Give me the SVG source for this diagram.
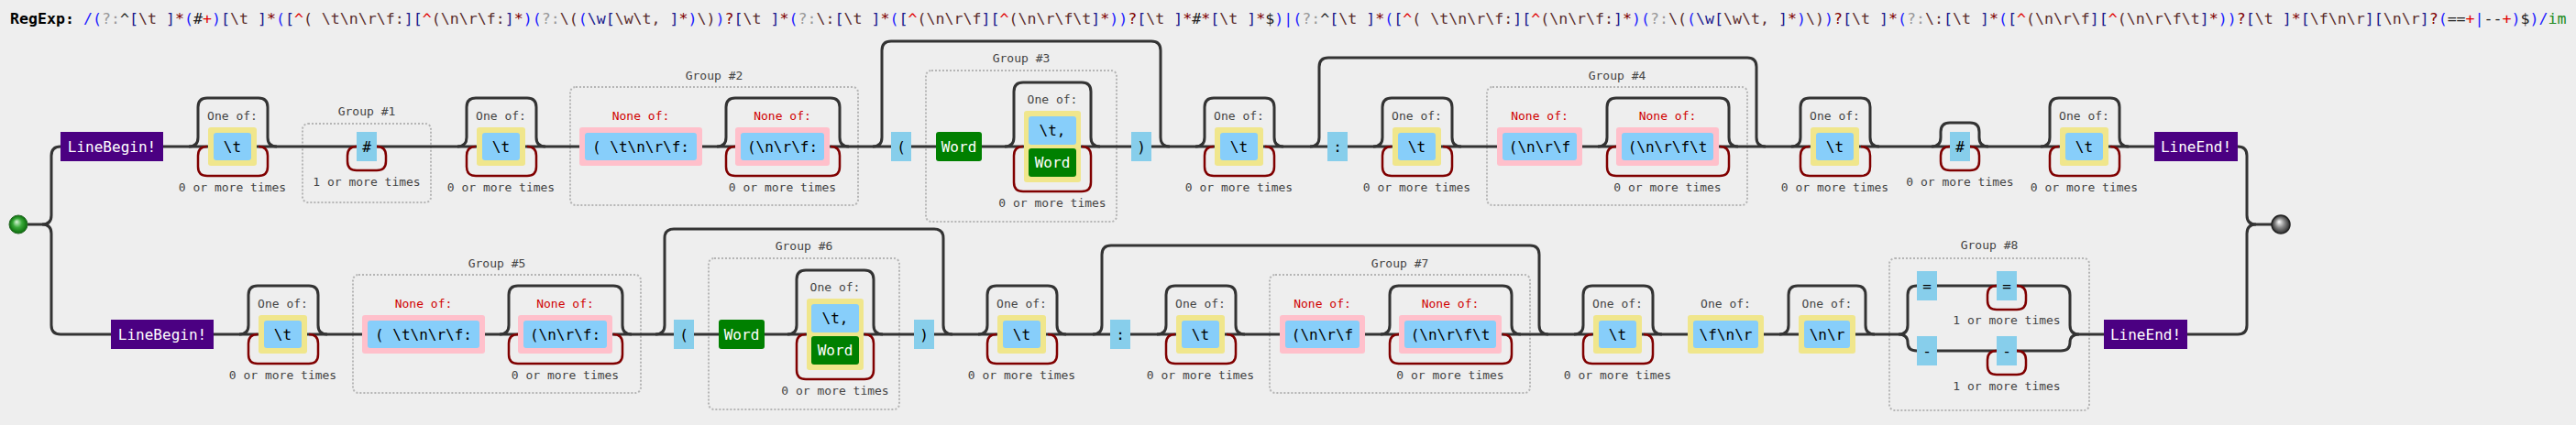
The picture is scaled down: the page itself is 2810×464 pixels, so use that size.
<svg xmlns="http://www.w3.org/2000/svg" width="2810" height="464" viewBox="0 0 2810 464">
<defs>
<style>
text{font-family:"DejaVu Sans Mono","Liberation Mono",monospace}
.ttl{font-size:16.6px}
.b{fill:#2020ff}.g{fill:#999}.k{fill:#222}.n{fill:#1a1a8c}.c{fill:#5a2d2d}.r{fill:#e00000}.q{fill:#800000}.f{fill:#228b22}
.t{font-size:16px;fill:#000;text-anchor:middle}
.tw{font-size:16px;fill:#fff;text-anchor:middle}
.lbl{font-size:13px;fill:#444;text-anchor:middle}
.neg{font-size:13px;fill:#d00000;text-anchor:middle}
.line{fill:none;stroke:#333;stroke-width:3}
.loop{fill:none;stroke:#800000;stroke-width:2.5}
.grp{fill:none;stroke:#b5b5b5;stroke-width:2;stroke-dasharray:2 2}
.cs{fill:#f0e68c}
.bl{fill:#87cefa}
.lt{fill:#87ceeb}
.pk{fill:#ffc0cb}
.gr{fill:#008000}
.anc{fill:#4b0082}
</style>
<radialGradient id="gs" cx="50%" cy="50%" r="50%" fx="40%" fy="35%">
<stop offset="0" stop-color="#d8f5d8"/><stop offset="0.5" stop-color="#39a939"/><stop offset="1" stop-color="#0a6a0a"/>
</radialGradient>
<radialGradient id="ge" cx="50%" cy="50%" r="50%" fx="40%" fy="35%">
<stop offset="0" stop-color="#ffffff"/><stop offset="0.5" stop-color="#8a8a8a"/><stop offset="1" stop-color="#2a2a2a"/>
</radialGradient>
</defs>
<rect width="2810" height="464" fill="#eeeeee"/>
<text id="title" class="ttl" x="11" y="26" xml:space="preserve"><tspan fill="#000" font-weight="bold">RegExp:</tspan> <tspan class="b">/(</tspan><tspan class="g">?:</tspan><tspan class="k">^</tspan><tspan class="n">[</tspan><tspan class="c">\t </tspan><tspan class="n">]</tspan><tspan class="q">*</tspan><tspan class="b">(</tspan><tspan class="k">#</tspan><tspan class="r">+</tspan><tspan class="b">)</tspan><tspan class="n">[</tspan><tspan class="c">\t </tspan><tspan class="n">]</tspan><tspan class="q">*</tspan><tspan class="b">(</tspan><tspan class="n">[</tspan><tspan class="r">^</tspan><tspan class="c">( \t\n\r\f:</tspan><tspan class="n">][</tspan><tspan class="r">^</tspan><tspan class="c">(\n\r\f:</tspan><tspan class="n">]</tspan><tspan class="q">*</tspan><tspan class="b">)(</tspan><tspan class="g">?:</tspan><tspan class="c">\(</tspan><tspan class="b">(</tspan><tspan class="n">\w[</tspan><tspan class="c">\w\t, </tspan><tspan class="n">]</tspan><tspan class="q">*</tspan><tspan class="b">)</tspan><tspan class="c">\)</tspan><tspan class="b">)</tspan><tspan class="q">?</tspan><tspan class="n">[</tspan><tspan class="c">\t </tspan><tspan class="n">]</tspan><tspan class="q">*</tspan><tspan class="b">(</tspan><tspan class="g">?:</tspan><tspan class="c">\:</tspan><tspan class="n">[</tspan><tspan class="c">\t </tspan><tspan class="n">]</tspan><tspan class="q">*</tspan><tspan class="b">(</tspan><tspan class="n">[</tspan><tspan class="r">^</tspan><tspan class="c">(\n\r\f</tspan><tspan class="n">][</tspan><tspan class="r">^</tspan><tspan class="c">(\n\r\f\t</tspan><tspan class="n">]</tspan><tspan class="q">*</tspan><tspan class="b">))</tspan><tspan class="q">?</tspan><tspan class="n">[</tspan><tspan class="c">\t </tspan><tspan class="n">]</tspan><tspan class="q">*</tspan><tspan class="k">#</tspan><tspan class="q">*</tspan><tspan class="n">[</tspan><tspan class="c">\t </tspan><tspan class="n">]</tspan><tspan class="q">*</tspan><tspan class="k">$</tspan><tspan class="b">)|(</tspan><tspan class="g">?:</tspan><tspan class="k">^</tspan><tspan class="n">[</tspan><tspan class="c">\t </tspan><tspan class="n">]</tspan><tspan class="q">*</tspan><tspan class="b">(</tspan><tspan class="n">[</tspan><tspan class="r">^</tspan><tspan class="c">( \t\n\r\f:</tspan><tspan class="n">][</tspan><tspan class="r">^</tspan><tspan class="c">(\n\r\f:</tspan><tspan class="n">]</tspan><tspan class="q">*</tspan><tspan class="b">)(</tspan><tspan class="g">?:</tspan><tspan class="c">\(</tspan><tspan class="b">(</tspan><tspan class="n">\w[</tspan><tspan class="c">\w\t, </tspan><tspan class="n">]</tspan><tspan class="q">*</tspan><tspan class="b">)</tspan><tspan class="c">\)</tspan><tspan class="b">)</tspan><tspan class="q">?</tspan><tspan class="n">[</tspan><tspan class="c">\t </tspan><tspan class="n">]</tspan><tspan class="q">*</tspan><tspan class="b">(</tspan><tspan class="g">?:</tspan><tspan class="c">\:</tspan><tspan class="n">[</tspan><tspan class="c">\t </tspan><tspan class="n">]</tspan><tspan class="q">*</tspan><tspan class="b">(</tspan><tspan class="n">[</tspan><tspan class="r">^</tspan><tspan class="c">(\n\r\f</tspan><tspan class="n">][</tspan><tspan class="r">^</tspan><tspan class="c">(\n\r\f\t</tspan><tspan class="n">]</tspan><tspan class="q">*</tspan><tspan class="b">))</tspan><tspan class="q">?</tspan><tspan class="n">[</tspan><tspan class="c">\t </tspan><tspan class="n">]</tspan><tspan class="q">*</tspan><tspan class="n">[</tspan><tspan class="c">\f\n\r</tspan><tspan class="n">][</tspan><tspan class="c">\n\r</tspan><tspan class="n">]</tspan><tspan class="q">?</tspan><tspan class="b">(</tspan><tspan class="k">==</tspan><tspan class="r">+</tspan><tspan class="b">|</tspan><tspan class="k">--</tspan><tspan class="r">+</tspan><tspan class="b">)</tspan><tspan class="k">$</tspan><tspan class="b">)/</tspan><tspan class="f">im</tspan></text>

<g id="groups">
<g id="group1"><rect class="grp" x="330" y="135" width="140" height="86" rx="6"/><text class="lbl" x="400" y="125.5">Group #1</text></g>
<g id="group2"><rect class="grp" x="622" y="95" width="314" height="129" rx="6"/><text class="lbl" x="779" y="86.5">Group #2</text></g>
<g id="group3"><rect class="grp" x="1010" y="77" width="208" height="165" rx="6"/><text class="lbl" x="1114" y="67.5">Group #3</text></g>
<g id="group4"><rect class="grp" x="1622" y="95" width="284" height="129" rx="6"/><text class="lbl" x="1764" y="86.5">Group #4</text></g>
<g id="group5"><rect class="grp" x="385" y="300" width="314" height="129" rx="6"/><text class="lbl" x="542" y="291.5">Group #5</text></g>
<g id="group6"><rect class="grp" x="773" y="282" width="208" height="165" rx="6"/><text class="lbl" x="877" y="272.5">Group #6</text></g>
<g id="group7"><rect class="grp" x="1385" y="300" width="284" height="129" rx="6"/><text class="lbl" x="1527" y="291.5">Group #7</text></g>
<g id="group8"><rect class="grp" x="2061" y="282" width="218" height="166" rx="6"/><text class="lbl" x="2170" y="271.5">Group #8</text></g>
</g>

<g id="connectors">
<path class="line" d="M30,245 H46 q10,0 10,-10 V170 q0,-10 10,-10 H66"/>
<path class="line" d="M46,245 q10,0 10,10 V355 q0,10 10,10 H121"/>
<path class="line" d="M178,160 H2350"/>
<path class="line" d="M233,365 H2071"/>
<path class="line" d="M2268,365 H2295"/>
<path class="line" d="M2441,160 q10,0 10,10 V235 q0,10 10,10 H2478"/>
<path class="line" d="M2386,365 H2441 q10,0 10,-10 V255 q0,-10 10,-10"/>
<path class="line" d="M2071,365 q10,0 10,-10 V322 q0,-10 10,-10 H2248 q10,0 10,10 V355 q0,10 10,10"/>
<path class="line" d="M2071,365 q10,0 10,9 q0,9 10,9 H2248 q10,0 10,-9 q0,-9 10,-9"/>
<!-- top row skips -->
<path class="line" d="M206,160 q10,0 10,-10 V117 q0,-10 10,-10 H282 q10,0 10,10 V150 q0,10 10,10"/>
<path class="line" d="M499,160 q10,0 10,-10 V117 q0,-10 10,-10 H575 q10,0 10,10 V150 q0,10 10,10"/>
<path class="line" d="M782,160 q10,0 10,-10 V117 q0,-10 10,-10 H906 q10,0 10,10 V150 q0,10 10,10"/>
<path class="line" d="M952,160 q10,0 10,-10 V55 q0,-10 10,-10 H1256 q10,0 10,10 V150 q0,10 10,10"/>
<path class="line" d="M1096,160 q10,0 10,-10 V100 q0,-10 10,-10 H1180 q10,0 10,10 V150 q0,10 10,10"/>
<path class="line" d="M1304,160 q10,0 10,-10 V117 q0,-10 10,-10 H1380 q10,0 10,10 V150 q0,10 10,10"/>
<path class="line" d="M1429,160 q10,0 10,-10 V73 q0,-10 10,-10 H1906 q10,0 10,10 V150 q0,10 10,10"/>
<path class="line" d="M1498,160 q10,0 10,-10 V117 q0,-10 10,-10 H1574 q10,0 10,10 V150 q0,10 10,10"/>
<path class="line" d="M1743,160 q10,0 10,-10 V117 q0,-10 10,-10 H1876 q10,0 10,10 V150 q0,10 10,10"/>
<path class="line" d="M1954,160 q10,0 10,-10 V117 q0,-10 10,-10 H2030 q10,0 10,10 V150 q0,10 10,10"/>
<path class="line" d="M2107,160 q10,0 10,-10 V144 q0,-10 10,-10 H2149 q10,0 10,10 V150 q0,10 10,10"/>
<path class="line" d="M2226,160 q10,0 10,-10 V117 q0,-10 10,-10 H2302 q10,0 10,10 V150 q0,10 10,10"/>
<!-- bottom row skips -->
<path class="line" d="M261,365 q10,0 10,-10 V322 q0,-10 10,-10 H337 q10,0 10,10 V355 q0,10 10,10"/>
<path class="line" d="M545,365 q10,0 10,-10 V322 q0,-10 10,-10 H669 q10,0 10,10 V355 q0,10 10,10"/>
<path class="line" d="M715,365 q10,0 10,-10 V260 q0,-10 10,-10 H1019 q10,0 10,10 V355 q0,10 10,10"/>
<path class="line" d="M859,365 q10,0 10,-10 V305 q0,-10 10,-10 H943 q10,0 10,10 V355 q0,10 10,10"/>
<path class="line" d="M1067,365 q10,0 10,-10 V322 q0,-10 10,-10 H1143 q10,0 10,10 V355 q0,10 10,10"/>
<path class="line" d="M1192,365 q10,0 10,-10 V278 q0,-10 10,-10 H1669 q10,0 10,10 V355 q0,10 10,10"/>
<path class="line" d="M1262,365 q10,0 10,-10 V322 q0,-10 10,-10 H1338 q10,0 10,10 V355 q0,10 10,10"/>
<path class="line" d="M1506,365 q10,0 10,-10 V322 q0,-10 10,-10 H1639 q10,0 10,10 V355 q0,10 10,10"/>
<path class="line" d="M1717,365 q10,0 10,-10 V322 q0,-10 10,-10 H1793 q10,0 10,10 V355 q0,10 10,10"/>
<path class="line" d="M1941,365 q10,0 10,-10 V322 q0,-10 10,-10 H2025 q10,0 10,10 V355 q0,10 10,10"/>
<!-- top row repeat loops -->
<path class="loop" d="M282,160 q10,0 10,10 V182 q0,10 -10,10 H226 q-10,0 -10,-10 V170 q0,-10 10,-10"/>
<path class="loop" d="M411,160 q10,0 10,10 V176 q0,10 -10,10 H389 q-10,0 -10,-10 V170 q0,-10 10,-10"/>
<path class="loop" d="M575,160 q10,0 10,10 V182 q0,10 -10,10 H519 q-10,0 -10,-10 V170 q0,-10 10,-10"/>
<path class="loop" d="M906,160 q10,0 10,10 V182 q0,10 -10,10 H802 q-10,0 -10,-10 V170 q0,-10 10,-10"/>
<path class="loop" d="M1180,160 q10,0 10,10 V199 q0,10 -10,10 H1116 q-10,0 -10,-10 V170 q0,-10 10,-10"/>
<path class="loop" d="M1380,160 q10,0 10,10 V182 q0,10 -10,10 H1324 q-10,0 -10,-10 V170 q0,-10 10,-10"/>
<path class="loop" d="M1574,160 q10,0 10,10 V182 q0,10 -10,10 H1518 q-10,0 -10,-10 V170 q0,-10 10,-10"/>
<path class="loop" d="M1876,160 q10,0 10,10 V182 q0,10 -10,10 H1763 q-10,0 -10,-10 V170 q0,-10 10,-10"/>
<path class="loop" d="M2030,160 q10,0 10,10 V182 q0,10 -10,10 H1974 q-10,0 -10,-10 V170 q0,-10 10,-10"/>
<path class="loop" d="M2149,160 q10,0 10,10 V176 q0,10 -10,10 H2127 q-10,0 -10,-10 V170 q0,-10 10,-10"/>
<path class="loop" d="M2302,160 q10,0 10,10 V182 q0,10 -10,10 H2246 q-10,0 -10,-10 V170 q0,-10 10,-10"/>
<!-- bottom row repeat loops -->
<path class="loop" d="M337,365 q10,0 10,10 V387 q0,10 -10,10 H281 q-10,0 -10,-10 V375 q0,-10 10,-10"/>
<path class="loop" d="M669,365 q10,0 10,10 V387 q0,10 -10,10 H565 q-10,0 -10,-10 V375 q0,-10 10,-10"/>
<path class="loop" d="M943,365 q10,0 10,10 V404 q0,10 -10,10 H879 q-10,0 -10,-10 V375 q0,-10 10,-10"/>
<path class="loop" d="M1143,365 q10,0 10,10 V387 q0,10 -10,10 H1087 q-10,0 -10,-10 V375 q0,-10 10,-10"/>
<path class="loop" d="M1338,365 q10,0 10,10 V387 q0,10 -10,10 H1282 q-10,0 -10,-10 V375 q0,-10 10,-10"/>
<path class="loop" d="M1639,365 q10,0 10,10 V387 q0,10 -10,10 H1526 q-10,0 -10,-10 V375 q0,-10 10,-10"/>
<path class="loop" d="M1793,365 q10,0 10,10 V387 q0,10 -10,10 H1737 q-10,0 -10,-10 V375 q0,-10 10,-10"/>
<path class="loop" d="M2200,312 q10,0 10,10 V328 q0,10 -10,10 H2178 q-10,0 -10,-10 V322 q0,-10 10,-10"/>
<path class="loop" d="M2200,383 q10,0 10,10 V399 q0,10 -10,10 H2178 q-10,0 -10,-10 V393 q0,-10 10,-10"/>
</g>

<g id="nodes">
<g id="start"><circle cx="20" cy="245" r="10" fill="url(#gs)" stroke="#2a6a2a" stroke-width="1"/></g>
<g id="end"><circle cx="2488" cy="245" r="10" fill="url(#ge)" stroke="#222" stroke-width="1.5"/></g>

<!-- top row -->
<g id="linebegin1"><rect class="anc" x="66" y="144" width="112" height="32"/><text class="tw" x="122" y="165.5">LineBegin!</text></g>
<g id="cs1"><text class="lbl" x="253.5" y="130.5">One of:</text><rect class="cs" x="227" y="139" width="53" height="42" rx="3"/><rect class="bl" x="233" y="145" width="41" height="30" rx="3"/><text class="t" x="253.5" y="165.5">\t</text><text class="lbl" x="253.5" y="208.5">0 or more times</text></g>
<g id="hash1"><rect class="lt" x="389" y="144" width="22" height="32"/><text class="t" x="400" y="165.5">#</text><text class="lbl" x="400" y="202.5">1 or more times</text></g>
<g id="cs2"><text class="lbl" x="546.5" y="130.5">One of:</text><rect class="cs" x="520" y="139" width="53" height="42" rx="3"/><rect class="bl" x="526" y="145" width="41" height="30" rx="3"/><text class="t" x="546.5" y="165.5">\t</text><text class="lbl" x="546.5" y="208.5">0 or more times</text></g>
<g id="none1"><text class="neg" x="699" y="130.5">None of:</text><rect class="pk" x="632" y="139" width="134" height="42" rx="3"/><rect class="bl" x="638" y="145" width="122" height="30" rx="3"/><text class="t" x="699" y="165.5" xml:space="preserve">( \t\n\r\f:</text></g>
<g id="none2"><text class="neg" x="853.5" y="130.5">None of:</text><rect class="pk" x="802" y="139" width="103" height="42" rx="3"/><rect class="bl" x="808" y="145" width="91" height="30" rx="3"/><text class="t" x="853.5" y="165.5">(\n\r\f:</text><text class="lbl" x="853.5" y="208.5">0 or more times</text></g>
<g id="lparen1"><rect class="lt" x="972" y="144" width="22" height="32"/><text class="t" x="983" y="165.5">(</text></g>
<g id="word1"><rect class="gr" x="1021" y="144" width="50" height="32" rx="3"/><text class="tw" x="1046" y="165.5">Word</text></g>
<g id="cs3"><text class="lbl" x="1148" y="112.5">One of:</text><rect class="cs" x="1117" y="121" width="62" height="78" rx="3"/><rect class="bl" x="1122" y="127" width="52" height="31" rx="3"/><text class="t" x="1148" y="148">\t,</text><rect class="gr" x="1122" y="162" width="52" height="31" rx="3"/><text class="tw" x="1148" y="183">Word</text><text class="lbl" x="1148" y="225.5">0 or more times</text></g>
<g id="rparen1"><rect class="lt" x="1234" y="144" width="22" height="32"/><text class="t" x="1245" y="165.5">)</text></g>
<g id="cs4"><text class="lbl" x="1351.5" y="130.5">One of:</text><rect class="cs" x="1325" y="139" width="53" height="42" rx="3"/><rect class="bl" x="1331" y="145" width="41" height="30" rx="3"/><text class="t" x="1351.5" y="165.5">\t</text><text class="lbl" x="1351.5" y="208.5">0 or more times</text></g>
<g id="colon1"><rect class="lt" x="1448" y="144" width="22" height="32"/><text class="t" x="1459" y="165.5">:</text></g>
<g id="cs5"><text class="lbl" x="1545.5" y="130.5">One of:</text><rect class="cs" x="1519" y="139" width="53" height="42" rx="3"/><rect class="bl" x="1525" y="145" width="41" height="30" rx="3"/><text class="t" x="1545.5" y="165.5">\t</text><text class="lbl" x="1545.5" y="208.5">0 or more times</text></g>
<g id="none3"><text class="neg" x="1679.5" y="130.5">None of:</text><rect class="pk" x="1633" y="139" width="93" height="42" rx="3"/><rect class="bl" x="1639" y="145" width="81" height="30" rx="3"/><text class="t" x="1679.5" y="165.5">(\n\r\f</text></g>
<g id="none4"><text class="neg" x="1819" y="130.5">None of:</text><rect class="pk" x="1763" y="139" width="112" height="42" rx="3"/><rect class="bl" x="1769" y="145" width="100" height="30" rx="3"/><text class="t" x="1819" y="165.5">(\n\r\f\t</text><text class="lbl" x="1819" y="208.5">0 or more times</text></g>
<g id="cs6"><text class="lbl" x="2001.5" y="130.5">One of:</text><rect class="cs" x="1975" y="139" width="53" height="42" rx="3"/><rect class="bl" x="1981" y="145" width="41" height="30" rx="3"/><text class="t" x="2001.5" y="165.5">\t</text><text class="lbl" x="2001.5" y="208.5">0 or more times</text></g>
<g id="hash2"><rect class="lt" x="2127" y="144" width="22" height="32"/><text class="t" x="2138" y="165.5">#</text><text class="lbl" x="2138" y="202.5">0 or more times</text></g>
<g id="cs7"><text class="lbl" x="2273.5" y="130.5">One of:</text><rect class="cs" x="2247" y="139" width="53" height="42" rx="3"/><rect class="bl" x="2253" y="145" width="41" height="30" rx="3"/><text class="t" x="2273.5" y="165.5">\t</text><text class="lbl" x="2273.5" y="208.5">0 or more times</text></g>
<g id="lineend1"><rect class="anc" x="2350" y="144" width="91" height="32"/><text class="tw" x="2395.5" y="165.5">LineEnd!</text></g>

<!-- bottom row -->
<g id="linebegin2"><rect class="anc" x="121" y="349" width="112" height="32"/><text class="tw" x="177" y="370.5">LineBegin!</text></g>
<g id="cs8"><text class="lbl" x="308.5" y="335.5">One of:</text><rect class="cs" x="282" y="344" width="53" height="42" rx="3"/><rect class="bl" x="288" y="350" width="41" height="30" rx="3"/><text class="t" x="308.5" y="370.5">\t</text><text class="lbl" x="308.5" y="413.5">0 or more times</text></g>
<g id="none5"><text class="neg" x="462" y="335.5">None of:</text><rect class="pk" x="395" y="344" width="134" height="42" rx="3"/><rect class="bl" x="401" y="350" width="122" height="30" rx="3"/><text class="t" x="462" y="370.5" xml:space="preserve">( \t\n\r\f:</text></g>
<g id="none6"><text class="neg" x="616.5" y="335.5">None of:</text><rect class="pk" x="565" y="344" width="103" height="42" rx="3"/><rect class="bl" x="571" y="350" width="91" height="30" rx="3"/><text class="t" x="616.5" y="370.5">(\n\r\f:</text><text class="lbl" x="616.5" y="413.5">0 or more times</text></g>
<g id="lparen2"><rect class="lt" x="735" y="349" width="22" height="32"/><text class="t" x="746" y="370.5">(</text></g>
<g id="word2"><rect class="gr" x="784" y="349" width="50" height="32" rx="3"/><text class="tw" x="809" y="370.5">Word</text></g>
<g id="cs9"><text class="lbl" x="911" y="317.5">One of:</text><rect class="cs" x="880" y="326" width="62" height="78" rx="3"/><rect class="bl" x="885" y="332" width="52" height="31" rx="3"/><text class="t" x="911" y="353">\t,</text><rect class="gr" x="885" y="367" width="52" height="31" rx="3"/><text class="tw" x="911" y="388">Word</text><text class="lbl" x="911" y="430.5">0 or more times</text></g>
<g id="rparen2"><rect class="lt" x="997" y="349" width="22" height="32"/><text class="t" x="1008" y="370.5">)</text></g>
<g id="cs10"><text class="lbl" x="1114.5" y="335.5">One of:</text><rect class="cs" x="1088" y="344" width="53" height="42" rx="3"/><rect class="bl" x="1094" y="350" width="41" height="30" rx="3"/><text class="t" x="1114.5" y="370.5">\t</text><text class="lbl" x="1114.5" y="413.5">0 or more times</text></g>
<g id="colon2"><rect class="lt" x="1211" y="349" width="22" height="32"/><text class="t" x="1222" y="370.5">:</text></g>
<g id="cs11"><text class="lbl" x="1309.5" y="335.5">One of:</text><rect class="cs" x="1283" y="344" width="53" height="42" rx="3"/><rect class="bl" x="1289" y="350" width="41" height="30" rx="3"/><text class="t" x="1309.5" y="370.5">\t</text><text class="lbl" x="1309.5" y="413.5">0 or more times</text></g>
<g id="none7"><text class="neg" x="1442.5" y="335.5">None of:</text><rect class="pk" x="1396" y="344" width="93" height="42" rx="3"/><rect class="bl" x="1402" y="350" width="81" height="30" rx="3"/><text class="t" x="1442.5" y="370.5">(\n\r\f</text></g>
<g id="none8"><text class="neg" x="1582" y="335.5">None of:</text><rect class="pk" x="1526" y="344" width="112" height="42" rx="3"/><rect class="bl" x="1532" y="350" width="100" height="30" rx="3"/><text class="t" x="1582" y="370.5">(\n\r\f\t</text><text class="lbl" x="1582" y="413.5">0 or more times</text></g>
<g id="cs12"><text class="lbl" x="1764.5" y="335.5">One of:</text><rect class="cs" x="1738" y="344" width="53" height="42" rx="3"/><rect class="bl" x="1744" y="350" width="41" height="30" rx="3"/><text class="t" x="1764.5" y="370.5">\t</text><text class="lbl" x="1764.5" y="413.5">0 or more times</text></g>
<g id="cs13"><text class="lbl" x="1882.5" y="335.5">One of:</text><rect class="cs" x="1841" y="344" width="83" height="42" rx="3"/><rect class="bl" x="1847" y="350" width="71" height="30" rx="3"/><text class="t" x="1882.5" y="370.5">\f\n\r</text></g>
<g id="cs14"><text class="lbl" x="1993" y="335.5">One of:</text><rect class="cs" x="1962" y="344" width="62" height="42" rx="3"/><rect class="bl" x="1968" y="350" width="50" height="30" rx="3"/><text class="t" x="1993" y="370.5">\n\r</text></g>
<g id="eq1"><rect class="lt" x="2091" y="296" width="22" height="32"/><text class="t" x="2102" y="317.5">=</text></g>
<g id="eq2"><rect class="lt" x="2178" y="296" width="22" height="32"/><text class="t" x="2189" y="317.5">=</text><text class="lbl" x="2189" y="353.5">1 or more times</text></g>
<g id="dash1"><rect class="lt" x="2091" y="367" width="22" height="32"/><text class="t" x="2102" y="388.5">-</text></g>
<g id="dash2"><rect class="lt" x="2178" y="367" width="22" height="32"/><text class="t" x="2189" y="388.5">-</text><text class="lbl" x="2189" y="425.5">1 or more times</text></g>
<g id="lineend2"><rect class="anc" x="2295" y="349" width="91" height="32"/><text class="tw" x="2340.5" y="370.5">LineEnd!</text></g>
</g>
</svg>
